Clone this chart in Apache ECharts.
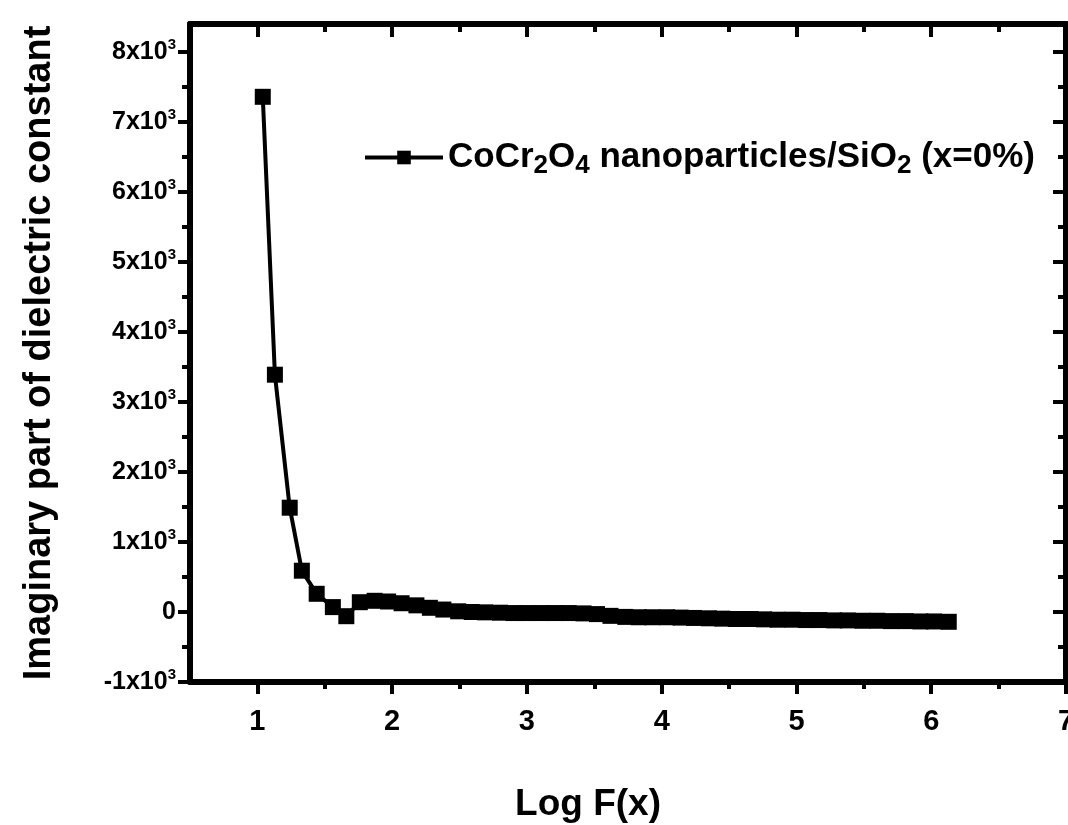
<!DOCTYPE html>
<html>
<head>
<meta charset="utf-8">
<script src="https://cdn.jsdelivr.net/npm/echarts@6/dist/echarts.min.js"></script>
<style>
  html, body { margin: 0; padding: 0; background: #fff; }
  #chart { width: 1068px; height: 825px; }
</style>
</head>
<body>
<div id="chart"></div>
<script>
// log10 of frequency
const logF = [1.04, 1.13, 1.24, 1.33, 1.44, 1.56, 1.66, 1.76, 1.87, 1.97,
  2.07, 2.18, 2.28, 2.38, 2.49, 2.59, 2.69, 2.80, 2.90, 3.00,
  3.11, 3.21, 3.31, 3.42, 3.52, 3.62, 3.73, 3.83, 3.93, 4.04,
  4.14, 4.24, 4.35, 4.45, 4.55, 4.66, 4.76, 4.86, 4.97, 5.07,
  5.17, 5.28, 5.38, 5.49, 5.60, 5.70, 5.81, 5.92, 6.02, 6.13];

// imaginary part of the dielectric constant
const imagEps = [7360, 3390, 1490, 590, 260, 70, -60, 140, 160, 150,
  125, 95, 60, 35, 10, 0, -5, -10, -15, -15,
  -15, -15, -15, -20, -30, -55, -70, -75, -75, -75,
  -80, -85, -90, -95, -100, -100, -105, -110, -110, -115,
  -115, -120, -120, -125, -125, -130, -130, -135, -135, -140];

const xMajor = [1, 2, 3, 4, 5, 6, 7];
const xMinor = [1.5, 2.5, 3.5, 4.5, 5.5, 6.5];
const yMajor = [-1000, 0, 1000, 2000, 3000, 4000, 5000, 6000, 7000, 8000];
const yMinor = [-500, 500, 1500, 2500, 3500, 4500, 5500, 6500, 7500];

const seriesName = 'CoCr2O4 nanoparticles/SiO2 (x=0%)';
const FONT = "'Liberation Sans', Arial, sans-serif";

const xRange = { min: 0.5, max: 7 };
const yRange = { min: -1000, max: 8400 };

// one axis layer: frame line (optional) plus a set of ticks
function axisDef(range, pos, ticks, len, inside, lineVisible, opts) {
  return Object.assign({
    type: 'value', position: pos, min: range.min, max: range.max,
    splitLine: { show: false },
    axisLine: { show: lineVisible, onZero: false, lineStyle: { color: '#000', width: 6 } },
    axisTick: { show: true, inside: inside, length: len, customValues: ticks,
      lineStyle: { color: '#000', width: 4 } },
    axisLabel: { show: false }
  }, opts || {});
}

const chart = echarts.init(document.getElementById('chart'), null, { renderer: 'canvas' });

chart.setOption({
  animation: false,
  backgroundColor: '#fff',
  grid: { left: 190, right: 2, top: 24, bottom: 143, containLabel: false, outerBoundsMode: 'none' },
  legend: {
    left: 358, top: 135,
    itemWidth: 78, itemHeight: 17,
    data: [seriesName],
    lineStyle: { width: 4, color: '#000' },
    formatter: () => 'CoCr{sub|2}O{sub|4} nanoparticles/SiO{sub|2} (x=0%)',
    textStyle: {
      color: '#000', fontSize: 35, fontWeight: 'bold', fontFamily: FONT,
      rich: {
        sub: { fontSize: 26, fontWeight: 'bold', fontFamily: FONT, color: '#000', padding: [16, 0, 0, 0] }
      }
    }
  },
  xAxis: [
    axisDef(xRange, 'bottom', xMajor, 12, false, true, {
      name: 'Log F(x)', nameLocation: 'middle', nameGap: 104,
      nameTextStyle: { color: '#000', fontSize: 37, fontWeight: 'bold', fontFamily: FONT,
        padding: [0, 80, 0, 0] },
      axisLabel: { show: true, customValues: xMajor, margin: 25, color: '#000',
        fontSize: 29, fontWeight: 'bold', fontFamily: FONT }
    }),
    axisDef(xRange, 'bottom', xMinor, 7, false, false),
    axisDef(xRange, 'top', xMajor, 13, true, true),
    axisDef(xRange, 'top', xMinor, 8, true, false)
  ],
  yAxis: [
    axisDef(yRange, 'left', yMajor, 12, false, true, {
      name: 'Imaginary part of dielectric constant', nameLocation: 'middle', nameGap: 131,
      nameTextStyle: { color: '#000', fontSize: 38, fontWeight: 'bold', fontFamily: FONT },
      axisLabel: {
        show: true, customValues: yMajor, margin: 14, color: '#000',
        fontSize: 25, fontWeight: 'bold', fontFamily: FONT,
        formatter: v => v === 0 ? '0' : '{b|' + (v / 1000) + 'x10}{s|3}',
        rich: {
          b: { fontSize: 25, fontWeight: 'bold', fontFamily: FONT, color: '#000' },
          s: { fontSize: 15, fontWeight: 'bold', fontFamily: FONT, color: '#000', padding: [0, 0, 14, 0] }
        }
      }
    }),
    axisDef(yRange, 'left', yMinor, 8, false, false),
    axisDef(yRange, 'right', yMajor, 13, true, true),
    axisDef(yRange, 'right', yMinor, 8, true, false)
  ],
  series: [{
    name: seriesName,
    type: 'line',
    xAxisIndex: 0, yAxisIndex: 0,
    data: logF.map((x, i) => [x, imagEps[i]]),
    symbol: 'rect', symbolSize: 16,
    itemStyle: { color: '#000' },
    lineStyle: { color: '#000', width: 4 },
    z: 3
  }]
});
</script>
</body>
</html>
